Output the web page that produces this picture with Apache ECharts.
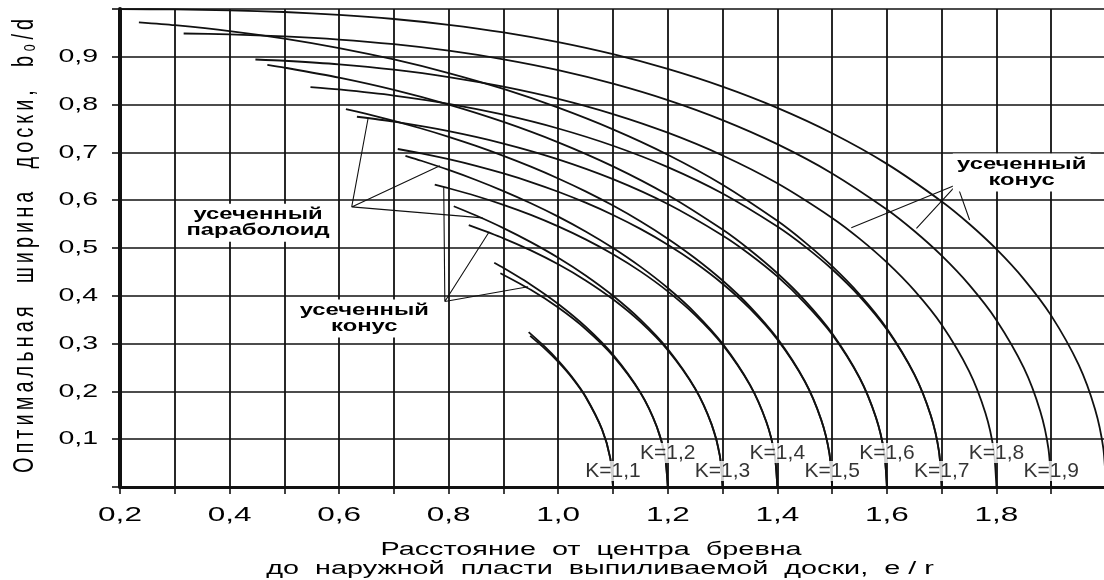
<!DOCTYPE html>
<html>
<head>
<meta charset="utf-8">
<script src="https://cdn.jsdelivr.net/npm/echarts@6/dist/echarts.min.js"></script>
<style>
  html, body { margin: 0; padding: 0; background: #fff; }
  #chart { width: 1104px; height: 580px; }
</style>
</head>
<body>
<div id="chart"></div>
<script>
// ---- axis ticks ----
const xTickValues = [0.2, 0.4, 0.6, 0.8, 1.0, 1.2, 1.4, 1.6, 1.8];
const xTickLabels = ['0,2', '0,4', '0,6', '0,8', '1,0', '1,2', '1,4', '1,6', '1,8'];
const yTickValues = [0.1, 0.2, 0.3, 0.4, 0.5, 0.6, 0.7, 0.8, 0.9];
const yTickLabels = ['0,1', '0,2', '0,3', '0,4', '0,5', '0,6', '0,7', '0,8', '0,9'];

// ---- curves: truncated cone (K = 1.1 ... 2.0), [e/r, b0/d] ----
const cone11 = [[0.9487,0.3162],[0.975,0.2901],[1.0,0.2617],[1.025,0.2287],[1.05,0.1883],[1.08,0.1203],[1.095,0.0605],[1.1,0]];
const cone12 = [[0.8944,0.4472],[0.95,0.4125],[1.0,0.3753],[1.05,0.3305],[1.1,0.2742],[1.15,0.197],[1.18,0.1257],[1.195,0.0632],[1.2,0]];
const cone13 = [[0.8367,0.5477],[0.9,0.5203],[0.95,0.495],[1.0,0.4659],[1.05,0.4322],[1.1,0.3927],[1.15,0.3453],[1.2,0.2861],[1.25,0.2053],[1.28,0.1309],[1.295,0.0657],[1.3,0]];
const cone14 = [[0.7746,0.6325],[0.8,0.625],[0.85,0.6088],[0.9,0.5903],[0.95,0.5692],[1.0,0.5452],[1.05,0.518],[1.1,0.4869],[1.15,0.4511],[1.2,0.4093],[1.25,0.3595],[1.3,0.2975],[1.35,0.2132],[1.38,0.1359],[1.395,0.0682],[1.4,0]];
const cone15 = [[0.7071,0.7071],[0.75,0.698],[0.8,0.6858],[0.85,0.6718],[0.9,0.6559],[0.95,0.638],[1.0,0.6177],[1.05,0.5948],[1.1,0.5691],[1.15,0.54],[1.2,0.507],[1.25,0.4692],[1.3,0.4253],[1.35,0.3731],[1.4,0.3085],[1.45,0.2209],[1.48,0.1408],[1.495,0.0706],[1.5,0]];
const cone16 = [[0.6325,0.7746],[0.7,0.7643],[0.8,0.7445],[0.9,0.7186],[1.0,0.6855],[1.1,0.644],[1.2,0.592],[1.3,0.5263],[1.35,0.4866],[1.4,0.4406],[1.45,0.3854],[1.5,0.3192],[1.55,0.2283],[1.58,0.1454],[1.595,0.073],[1.6,0]];
const cone17 = [[0.5477,0.8367],[0.6,0.8317],[0.7,0.819],[0.8,0.8017],[0.9,0.7789],[1.0,0.75],[1.1,0.7139],[1.2,0.6693],[1.3,0.6141],[1.4,0.545],[1.45,0.5034],[1.5,0.4555],[1.55,0.399],[1.6,0.3294],[1.65,0.2355],[1.68,0.1499],[1.695,0.0752],[1.7,0]];
const cone18 = [[0.4472,0.8944],[0.5,0.8917],[0.6,0.8841],[0.7,0.873],[0.8,0.8577],[0.9,0.8375],[1.0,0.812],[1.1,0.7802],[1.2,0.7412],[1.3,0.6936],[1.4,0.6354],[1.5,0.563],[1.55,0.5197],[1.6,0.4699],[1.65,0.4113],[1.7,0.3394],[1.75,0.2425],[1.78,0.1543],[1.795,0.0774],[1.8,0]];
const cone19 = [[0.3162,0.9487],[0.4,0.9468],[0.5,0.9427],[0.6,0.9361],[0.7,0.9263],[0.8,0.9127],[0.9,0.8948],[1.0,0.8721],[1.1,0.8438],[1.2,0.8094],[1.3,0.7676],[1.4,0.7172],[1.5,0.656],[1.6,0.5805],[1.65,0.5355],[1.7,0.4839],[1.75,0.4233],[1.8,0.3491],[1.85,0.2493],[1.88,0.1586],[1.895,0.0795],[1.9,0]];
const cone20 = [[0.2,0.9998],[0.3,0.9991],[0.4,0.9972],[0.5,0.9937],[0.6,0.9878],[0.7,0.9791],[0.8,0.9669],[0.9,0.951],[1.0,0.9306],[1.1,0.9054],[1.2,0.8746],[1.3,0.8375],[1.4,0.7931],[1.5,0.74],[1.6,0.676],[1.7,0.5974],[1.75,0.5508],[1.8,0.4975],[1.85,0.435],[1.9,0.3585],[1.95,0.2559],[1.98,0.1627],[1.995,0.0816],[2.0,0]];

// ---- curves: truncated paraboloid (K = 1.1 ... 1.7) ----
const para11 = [[0.946,0.324],[0.975,0.294],[1.0,0.2646],[1.025,0.2305],[1.05,0.1893],[1.08,0.1206],[1.095,0.0605],[1.1,0]];
const para12 = [[0.8832,0.469],[0.9,0.4583],[0.95,0.4233],[1.0,0.383],[1.05,0.3354],[1.1,0.2769],[1.15,0.1979],[1.18,0.126],[1.195,0.0632],[1.2,0]];
const para13 = [[0.8093,0.5874],[0.85,0.5679],[0.9,0.5416],[0.95,0.5123],[1.0,0.4796],[1.05,0.4425],[1.1,0.4],[1.15,0.35],[1.2,0.2887],[1.25,0.2062],[1.28,0.1311],[1.295,0.0658],[1.3,0]];
const para14 = [[0.7211,0.6928],[0.75,0.6825],[0.8,0.6633],[0.85,0.6423],[0.9,0.6191],[0.95,0.5937],[1.0,0.5657],[1.05,0.5346],[1.1,0.5],[1.15,0.461],[1.2,0.4163],[1.25,0.364],[1.3,0.3],[1.35,0.2141],[1.38,0.1361],[1.395,0.0683],[1.4,0]];
const para15 = [[0.6124,0.7906],[0.65,0.7805],[0.7,0.7659],[0.75,0.75],[0.8,0.7326],[0.85,0.7136],[0.9,0.6928],[0.95,0.6702],[1.0,0.6455],[1.05,0.6185],[1.1,0.5888],[1.15,0.556],[1.2,0.5196],[1.25,0.4787],[1.3,0.432],[1.35,0.3775],[1.4,0.3109],[1.45,0.2217],[1.48,0.141],[1.495,0.0707],[1.5,0]];
const para16 = [[0.469,0.8832],[0.5,0.8775],[0.6,0.8563],[0.7,0.8307],[0.8,0.8],[0.9,0.7638],[1.0,0.7211],[1.1,0.6708],[1.2,0.611],[1.3,0.5385],[1.35,0.4958],[1.4,0.4472],[1.45,0.3905],[1.5,0.3215],[1.55,0.2291],[1.58,0.1456],[1.595,0.073],[1.6,0]];
const para17 = [[0.2345,0.9721],[0.3,0.9661],[0.4,0.9539],[0.5,0.9381],[0.6,0.9183],[0.7,0.8944],[0.8,0.866],[0.9,0.8327],[1.0,0.7937],[1.1,0.7483],[1.2,0.6952],[1.3,0.6325],[1.4,0.5568],[1.45,0.5123],[1.5,0.4619],[1.55,0.4031],[1.6,0.3317],[1.65,0.2363],[1.68,0.1501],[1.695,0.0752],[1.7,0]];

// ---- curve labels ----
const kValues = [1.1, 1.2, 1.3, 1.4, 1.5, 1.6, 1.7, 1.8, 1.9];
const kLabels = ['K=1,1', 'K=1,2', 'K=1,3', 'K=1,4', 'K=1,5', 'K=1,6', 'K=1,7', 'K=1,8', 'K=1,9'];

// ---- annotations ----
const noteTexts = ['усеченный\nпараболоид', 'усеченный\nконус', 'усеченный\nконус'];
const yTitle = 'Оптимальная  ширина  доски,  b₀/d';
const xTitle1 = 'Расстояние  от  центра  бревна';
const xTitle2 = 'до  наружной  пласти  выпиливаемой  доски,  e / r';

function spaced(s, gap) {
  return s.split('\n').map(line => Array.from(line).join(gap)).join('\n');
}

const INK = '#111';
const FONT = '"Liberation Sans", Arial, sans-serif';

const curves = [cone11, para11, cone12, para12, cone13, para13, cone14, para14,
  cone15, para15, cone16, para16, cone17, para17, cone18, cone19, cone20];

const series = curves.map(d => ({
  type: 'line',
  data: d,
  showSymbol: false,
  smooth: 0.25,
  silent: true,
  z: 3,
  lineStyle: { color: INK, width: 1.8 }
}));

// leader lines: vertex -> each pointed curve
const leaders = [
  { v: [0.623, 0.586], ends: [[0.653, 0.772], [0.784, 0.672], [0.862, 0.563]] },
  { v: [0.793, 0.388], ends: [[0.791, 0.627], [0.874, 0.534], [0.945, 0.419]] },
  { v: [1.728, 0.633], ends: [[1.535, 0.5425], [1.654, 0.541], [1.751, 0.5586]] }
];
leaders.forEach(l => {
  series.push({
    type: 'line', data: [l.ends[0], l.v, l.ends[1], l.v, l.ends[2]],
    showSymbol: false, silent: true, z: 3,
    lineStyle: { color: INK, width: 1.1 }
  });
});

// K labels: odd K on the lower row, even K on the upper row
series.push({
  type: 'scatter',
  symbolSize: 0,
  silent: true,
  z: 10,
  data: kValues.map((k, i) => ({ value: [k, i % 2 === 0 ? 0.0335 : 0.071], name: kLabels[i] })),
  label: {
    show: true, position: 'inside', formatter: p => p.name,
    color: '#000', fontFamily: FONT, fontSize: 21, lineHeight: 20,
    backgroundColor: '#fff', padding: [0, 3], textBorderWidth: 0
  }
});

const chart = echarts.init(document.getElementById('chart'), null, { renderer: 'canvas' });
chart.setOption({
  animation: false,
  backgroundColor: '#fff',
  grid: { left: 120, right: -2, top: 9, bottom: 93, containLabel: false, outerBoundsMode: 'none' },
  xAxis: {
    type: 'value', min: 0.2, max: 2.0, interval: 0.1,
    axisLine: { show: true, onZero: false, lineStyle: { color: INK, width: 3 } },
    axisTick: { show: true, length: 7, lineStyle: { color: INK, width: 1.6 } },
    axisLabel: { show: false },
    splitLine: { show: true, lineStyle: { color: INK, width: 1.8 } }
  },
  yAxis: {
    type: 'value', min: 0, max: 1.0, interval: 0.1,
    axisLine: { show: true, onZero: false, lineStyle: { color: INK, width: 4 } },
    axisTick: { show: true, length: 8, lineStyle: { color: INK, width: 1.6 } },
    axisLabel: { show: false },
    splitLine: { show: true, lineStyle: { color: INK, width: 1.5 } }
  },
  series: series
});

// Text of the figure is set wide: tick labels, captions and titles are drawn
// as stretched text, placed through the grid's own coordinate conversion.
const toPx = v => chart.convertToPixel({ gridIndex: 0 }, v);
const txt = (x, y, text, font, extra) => Object.assign({
  type: 'text', x: x, y: y, silent: true, z: 100,
  style: { text: text, font: font, fill: '#000', align: 'center', verticalAlign: 'middle' }
}, extra || {});

const graphics = [];
xTickValues.forEach((v, i) => {
  const p = toPx([v, 0]);
  graphics.push(txt(p[0], p[1] + 28, xTickLabels[i], '21px ' + FONT, { scaleX: 1.5 }));
});
yTickValues.forEach((v, i) => {
  const p = toPx([0.2, v]);
  const t = txt(p[0] - 22, p[1], yTickLabels[i], '19px ' + FONT, { scaleX: 1.5 });
  t.style.align = 'right';
  graphics.push(t);
});

const noteAnchors = [[0.452, 0.553], [0.646, 0.3525], [1.846, 0.658]];
noteTexts.forEach((t, i) => {
  const p = toPx(noteAnchors[i]);
  const g = txt(p[0], p[1], t, 'bold 17px ' + FONT, { scaleX: 1.4 });
  g.style.lineHeight = 16;
  g.style.backgroundColor = '#fff';
  g.style.padding = [3, 3];
  graphics.push(g);
});

const yMid = toPx([0.2, 0.5]);
graphics.push(txt(25, yMid[1] - 2, spaced(yTitle, '\u2009'), '20px ' + FONT,
  { rotation: Math.PI / 2, scaleY: 1.45 }));
graphics.push(txt(591, 550, xTitle1, '18px ' + FONT, { scaleX: 1.6 }));
graphics.push(txt(600, 569, xTitle2, '18px ' + FONT, { scaleX: 1.6 }));

chart.setOption({ graphic: graphics });
</script>
</body>
</html>
